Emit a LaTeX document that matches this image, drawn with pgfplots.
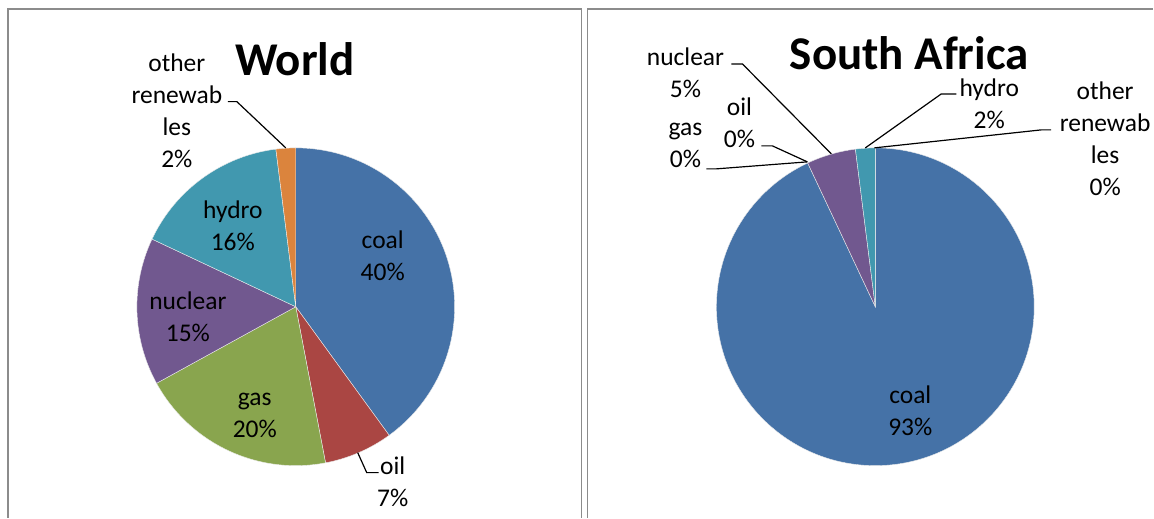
\documentclass[border=0pt]{standalone}
\usepackage{pgfplots}
\usepackage{pgfplotstable}
\pgfplotsset{compat=1.18}
\usepackage{fontspec}
\setmainfont{Carlito}

\definecolor{cCoal}{HTML}{4572A7}
\definecolor{cOil}{HTML}{AA4643}
\definecolor{cGas}{HTML}{89A54E}
\definecolor{cNuc}{HTML}{71588F}
\definecolor{cHyd}{HTML}{4198AF}
\definecolor{cOth}{HTML}{DB843D}
\definecolor{frame}{HTML}{8C8C8C}

% electricity generation shares, percent
\pgfplotstableread{
name value color
coal 40 cCoal
oil 7 cOil
gas 20 cGas
nuclear 15 cNuc
hydro 16 cHyd
other 2 cOth
}\worldtbl

\pgfplotstableread{
name value color
coal 93 cCoal
oil 0 cOil
gas 0 cGas
nuclear 5 cNuc
hydro 2 cHyd
other 0 cOth
}\satbl

% wedges clockwise from 12 o'clock: #1 table, #2,#3 centre, radius 159
\newcommand\drawpie[3]{%
  \pgfplotstablegetrowsof{#1}%
  \pgfmathtruncatemacro\nrows{\pgfplotsretval-1}%
  \gdef\cum{0}%
  \foreach \i in {0,...,\nrows}{%
    \pgfplotstablegetelem{\i}{value}\of{#1}\let\val\pgfplotsretval
    \pgfplotstablegetelem{\i}{color}\of{#1}\let\col\pgfplotsretval
    \pgfmathsetmacro\sa{90-3.6*\cum}%
    \pgfmathsetmacro\ea{90-3.6*(\cum+\val)}%
    \pgfmathsetmacro\newcum{\cum+\val}\xdef\cum{\newcum}%
    \ifdim\val pt>0pt
      \edef\cmd{\noexpand\fill[\col, draw=white!85!gray, line width=0.4pt]
        (axis cs:#2,#3) -- ++(\sa:159pt)
        arc[start angle=\sa, end angle=\ea, radius=159pt] -- cycle;}%
      \cmd
    \fi
  }%
}

\newcommand\lbl{\fontsize{25.5}{32}\selectfont}
\newcommand\ttl{\fontsize{47}{56}\selectfont\bfseries}

\begin{document}
\begin{tikzpicture}
\begin{axis}[
  x=1pt, y=1pt,
  xmin=0, xmax=1154, ymin=0, ymax=518,
  hide axis, clip=false,
  anchor=origin, at={(0,0)},
]
\path (axis cs:0,0) rectangle (axis cs:1154,518);

% panel frames
\draw[frame, line width=1.8pt] (axis cs:8,0) -- (axis cs:8,509) -- (axis cs:582,509) -- (axis cs:582,0);
\draw[frame, line width=1.8pt] (axis cs:588,0) -- (axis cs:588,509) -- (axis cs:1154,509);

% World
\drawpie{\worldtbl}{296}{211}
\node[font=\ttl] at (axis cs:295,459) {World};
\node[font=\lbl, align=center] at (axis cs:383,262) {coal\\40\%};
\node[font=\lbl, align=center] at (axis cs:233,292) {hydro\\16\%};
\node[font=\lbl, align=center] at (axis cs:188,201) {nuclear\\15\%};
\node[font=\lbl, align=center] at (axis cs:255,102) {gas\\20\%};
\node[font=\lbl, align=center] at (axis cs:393,36) {oil\\7\%};
\node[font=\lbl, align=center] at (axis cs:177,407) {other\\renewab\\les\\2\%};
\draw[black, line width=1.2pt] (axis cs:228,416.3) -- (axis cs:237,416.3) -- (axis cs:286,370);
\draw[black, line width=1.2pt] (axis cs:358,65) -- (axis cs:367,45) -- (axis cs:379,45);

% South Africa
\drawpie{\satbl}{876}{211}
\node[font=\ttl] at (axis cs:910,465) {South Africa};
\node[font=\lbl, align=center] at (axis cs:911,107) {coal\\93\%};
\node[font=\lbl, align=center] at (axis cs:686,445) {nuclear\\5\%};
\node[font=\lbl, align=center] at (axis cs:740,395) {oil\\0\%};
\node[font=\lbl, align=center] at (axis cs:686,372) {gas\\0\%};
\node[font=\lbl, align=center] at (axis cs:990,414) {hydro\\2\%};
\node[font=\lbl, align=center] at (axis cs:1106,379) {other\\renewab\\les\\0\%};
\draw[black, line width=1.2pt] (axis cs:732,454) -- (axis cs:743,454) -- (axis cs:832,364);
\draw[black, line width=1.2pt] (axis cs:762,372) -- (axis cs:773,372) -- (axis cs:808,356);
\draw[black, line width=1.2pt] (axis cs:707,349) -- (axis cs:717,349) -- (axis cs:808,356);
\draw[black, line width=1.2pt] (axis cs:957,424) -- (axis cs:942,424) -- (axis cs:866,370);
\draw[black, line width=1.2pt] (axis cs:875,370) -- (axis cs:1042,388) -- (axis cs:1052,388);
\end{axis}
\end{tikzpicture}
\end{document}
